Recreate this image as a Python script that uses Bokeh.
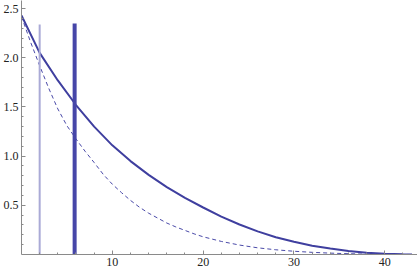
from bokeh.plotting import figure
from bokeh.models import FixedTicker, PrintfTickFormatter, Range1d
from bokeh.embed import file_html
from bokeh.resources import INLINE

# Solid curve
solid_x = [0, 2, 4, 6, 8, 10, 12, 14, 16, 18, 20, 22, 24, 26, 28, 30, 32, 34, 36, 38, 40, 42, 43]
solid_y = [2.43, 2.05, 1.77, 1.52, 1.30, 1.11, 0.95, 0.81, 0.685, 0.575, 0.478, 0.385, 0.305,
           0.235, 0.175, 0.13, 0.09, 0.06, 0.036, 0.018, 0.007, 0.002, 0.0]

# Dashed curve
dash_x = [0, 1, 2, 3, 4, 5, 6, 7, 8, 9, 10, 11, 12, 13, 14, 15, 16, 17, 18, 19, 20,
          22, 24, 26, 28, 30, 32, 34, 36, 38, 40, 43]
dash_y = [2.42, 2.16, 1.92, 1.69, 1.48, 1.31, 1.175, 1.05, 0.935, 0.815, 0.715, 0.63, 0.55,
          0.48, 0.42, 0.37, 0.32, 0.28, 0.245, 0.21, 0.18, 0.133, 0.096, 0.068, 0.048,
          0.033, 0.022, 0.014, 0.008, 0.004, 0.002, 0.0]

# Vertical markers
marker_x = [2.0, 5.85]
marker_top = [2.34, 2.35]

x_major = [10, 20, 30, 40]
x_minor = [2, 4, 6, 8, 12, 14, 16, 18, 22, 24, 26, 28, 32, 34, 36, 38, 42]
y_major = [0.5, 1.0, 1.5, 2.0, 2.5]
y_minor = [0.1, 0.2, 0.3, 0.4, 0.6, 0.7, 0.8, 0.9, 1.1, 1.2, 1.3, 1.4,
           1.6, 1.7, 1.8, 1.9, 2.1, 2.2, 2.3, 2.4]

p = figure(width=417, height=268, output_backend="svg", toolbar_location=None,
           x_range=Range1d(0, 43.6), y_range=Range1d(0, 2.583),
           min_border_left=0, min_border_right=0, min_border_top=0, min_border_bottom=0)
p.outline_line_color = None
p.grid.visible = False
p.background_fill_color = "white"
p.border_fill_color = "white"

p.line(solid_x, solid_y, line_color="#3f3f9f", line_width=2)
p.line(dash_x, dash_y, line_color="#4a4aa8", line_width=1, line_dash="4 3")
p.segment(x0=marker_x[:1], y0=[0], x1=marker_x[:1], y1=marker_top[:1],
          line_color="#aaaad6", line_width=2)
p.segment(x0=marker_x[1:], y0=[0], x1=marker_x[1:], y1=marker_top[1:],
          line_color="#4646a8", line_width=4)

for ax in (p.xaxis[0], p.yaxis[0]):
    ax.axis_line_color = "#8a8a8a"
    ax.major_tick_line_color = "#8a8a8a"
    ax.minor_tick_line_color = "#8a8a8a"
    ax.major_tick_in = 4
    ax.major_tick_out = 0
    ax.minor_tick_in = 2
    ax.minor_tick_out = 0
    ax.major_label_text_font = "Liberation Serif"
    ax.major_label_text_font_size = "12px"
    ax.major_label_text_color = "#222222"
    ax.major_label_standoff = 3

p.xaxis[0].ticker = FixedTicker(ticks=x_major, minor_ticks=x_minor)
p.xaxis[0].formatter = PrintfTickFormatter(format="%d")
p.yaxis[0].ticker = FixedTicker(ticks=y_major, minor_ticks=y_minor)
p.yaxis[0].formatter = PrintfTickFormatter(format="%.1f")

open("out.html", "w").write(file_html(p, INLINE))
